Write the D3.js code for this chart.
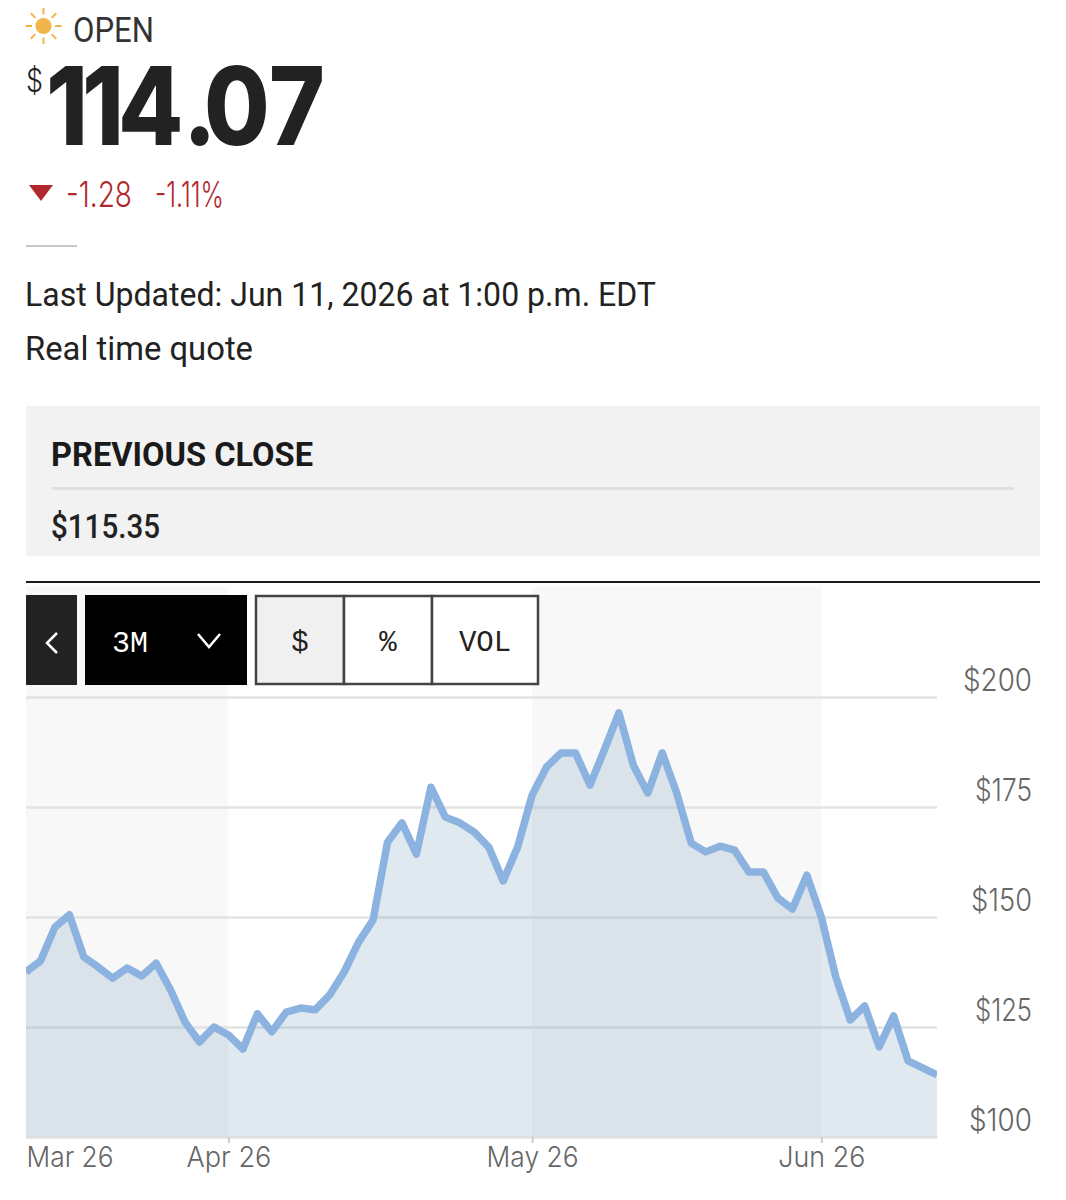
<!DOCTYPE html>
<html>
<head>
<meta charset="utf-8">
<title>Quote</title>
<script src="https://cdn.jsdelivr.net/npm/d3@7"></script>
<style>
  html, body { margin: 0; padding: 0; background: #fff; }
  svg { display: block; }
  .sans { font-family: Roboto, sans-serif; }
  .grot { font-family: Inter, sans-serif; }
  .mono { font-family: "Liberation Mono", monospace; }
</style>
</head>
<body>
<svg id="chart" width="1066" height="1200"></svg>
<script>
// Closing prices, one per trading day
var prices = [137.5, 140, 147.7, 150.5, 140.9, 138.6, 136.1, 138.4, 136.6, 139.5,
  133.4, 126.1, 121.6, 125, 123.2, 120, 128, 123.9, 128.4, 129.3,
  128.9, 132.3, 137.5, 144.3, 149.3, 167, 171.4, 164.3, 179.5, 172.7,
  171.4, 169.3, 165.9, 158.2, 165.9, 177.7, 184.1, 187.3, 187.3, 180,
  188, 196.4, 184.5, 178.2, 187.3, 178.2, 166.8, 164.8, 166.1, 165.2,
  160.2, 160.2, 154.3, 151.8, 159.5, 150, 136.4, 126.6, 129.8, 120.5,
  127.5, 117.3, 115.7, 114.1];
var priceTicks = [100, 125, 150, 175, 200];
var monthLabels = ['Mar 26', 'Apr 26', 'May 26', 'Jun 26'];
var monthStarts = [0, 14, 35, 55];
var rangeButtons = ['$', '%', 'VOL'];

var svg = d3.select('#chart');

var left = 26, right = 937, top_ = 697, bottom = 1137;

var x = d3.scaleLinear().domain([0, prices.length - 1]).range([left, right]);
var y = d3.scaleLinear().domain([100, 200]).range([bottom, top_]);

function label(text, cls, xpos, ypos, size, weight, fill, width, anchor) {
  var t = svg.append('text')
    .attr('class', cls)
    .attr('x', xpos).attr('y', ypos)
    .attr('font-size', size)
    .attr('font-weight', weight)
    .attr('fill', fill)
    .attr('text-anchor', anchor || 'start')
    .text(text);
  if (width) t.attr('textLength', width).attr('lengthAdjust', 'spacingAndGlyphs');
  return t;
}

// Header: sun icon
var sun = svg.append('g').attr('transform', 'translate(43.5,26)');
sun.append('circle').attr('r', 8).attr('fill', '#f1b54b');
d3.range(8).forEach(function(i) {
  sun.append('line')
    .attr('x1', 0).attr('y1', -11.5).attr('x2', 0).attr('y2', -18)
    .attr('stroke', '#f1b54b').attr('stroke-width', 2)
    .attr('transform', 'rotate(' + i * 45 + ')');
});
label('OPEN', 'sans', 73, 42, 35, 400, '#333', 81);

// Price, squeezed a little and spaced glyph by glyph
label('$', 'grot', 26, 92, 32, 300, '#222', 17);
var squeeze = 0.88;
var glyphX = [46, 82, 118, 183, 204, 269];
svg.append('text')
  .attr('class', 'grot')
  .attr('transform', 'scale(' + squeeze + ',1)')
  .attr('y', 145)
  .attr('font-size', 108)
  .attr('font-weight', 800)
  .attr('fill', '#222')
  .attr('x', glyphX.map(function(v) { return v / squeeze; }).join(' '))
  .text('114.07');

// Change
svg.append('path').attr('d', 'M29,185L53,185L41,201Z').attr('fill', '#b0282d');
label('-1.28', 'grot', 66, 207, 35, 350, '#b0282d', 66);
label('-1.11%', 'grot', 155, 207, 35, 350, '#b0282d', 69);

svg.append('rect').attr('x', 26).attr('y', 245).attr('width', 51).attr('height', 2).attr('fill', '#c8c8c8');

label('Last Updated: Jun 11, 2026 at 1:00 p.m. EDT', 'sans', 25, 306, 33, 400, '#222', 631);
label('Real time quote', 'sans', 25, 360, 33, 400, '#222', 228);

// Previous close box
svg.append('rect').attr('x', 26).attr('y', 406).attr('width', 1014).attr('height', 150).attr('fill', '#f2f2f2');
label('PREVIOUS CLOSE', 'sans', 51, 466, 34, 700, '#1a1a1a', 262);
svg.append('rect').attr('x', 52).attr('y', 487).attr('width', 962).attr('height', 3).attr('fill', '#e0e0e0');
label('$115.35', 'sans', 51, 538, 33, 500, '#222', 109);

svg.append('rect').attr('x', 26).attr('y', 581).attr('width', 1014).attr('height', 2).attr('fill', '#1a1a1a');

// Alternate month bands
svg.selectAll('.band')
  .data([[monthStarts[0], monthStarts[1]], [monthStarts[2], monthStarts[3]]])
  .enter().append('rect')
  .attr('class', 'band')
  .attr('x', function(d) { return x(d[0]); })
  .attr('y', 587)
  .attr('width', function(d) { return x(d[1]) - x(d[0]); })
  .attr('height', bottom - 587)
  .attr('fill', '#f8f8f8');

// Price axis with the grid lines
var yAxis = svg.append('g')
  .attr('transform', 'translate(' + left + ',0)')
  .call(d3.axisRight(y).tickValues(priceTicks).tickSize(right - left).tickFormat(function(d) { return '$' + d; }));
yAxis.select('.domain').remove();
yAxis.selectAll('line').attr('stroke', '#e3e3e3').attr('stroke-width', 2.5);
var priceLabelWidths = { 100: 63, 125: 57, 150: 61, 175: 57, 200: 69 };
yAxis.selectAll('text')
  .attr('class', 'grot')
  .attr('x', 1032 - left)
  .attr('dy', 0)
  .attr('y', -7)
  .attr('text-anchor', 'end')
  .attr('font-size', 31)
  .attr('font-weight', 300)
  .attr('fill', '#666')
  .attr('textLength', function(d) { return priceLabelWidths[d]; })
  .attr('lengthAdjust', 'spacingAndGlyphs');

// Area and line
svg.append('clipPath').attr('id', 'plot').append('rect')
  .attr('x', left).attr('y', 587).attr('width', right - left).attr('height', bottom - 587);

var area = d3.area()
  .x(function(d, i) { return x(i); })
  .y0(bottom)
  .y1(function(d) { return y(d); });
var line = d3.line()
  .x(function(d, i) { return x(i); })
  .y(function(d) { return y(d); });

svg.append('path').datum(prices)
  .attr('d', area)
  .attr('fill', 'rgb(100,140,180)')
  .attr('fill-opacity', 0.2);
svg.append('path').datum(prices)
  .attr('d', line)
  .attr('clip-path', 'url(#plot)')
  .attr('fill', 'none')
  .attr('stroke', '#8cb3e0')
  .attr('stroke-width', 7.5)
  .attr('stroke-linejoin', 'round');

// Month axis
var xAxis = svg.append('g')
  .attr('transform', 'translate(0,' + bottom + ')')
  .call(d3.axisBottom(x).tickValues(monthStarts).tickSizeInner(6).tickSizeOuter(0)
    .tickFormat(function(d) { return monthLabels[monthStarts.indexOf(d)]; }));
xAxis.select('.domain').attr('stroke', '#e3e3e3').attr('stroke-width', 2);
xAxis.selectAll('line').attr('stroke', '#ccc').attr('stroke-width', 2)
  .attr('opacity', function(d) { return d === 0 ? 0 : 1; });
var monthLabelWidths = [87, 85, 92, 87];
xAxis.selectAll('text')
  .attr('class', 'grot')
  .attr('dy', 0)
  .attr('y', 30)
  .attr('font-size', 29)
  .attr('font-weight', 300)
  .attr('fill', '#666')
  .attr('text-anchor', function(d) { return d === 0 ? 'start' : 'middle'; })
  .attr('textLength', function(d) { return monthLabelWidths[monthStarts.indexOf(d)]; })
  .attr('lengthAdjust', 'spacingAndGlyphs');

// Controls
svg.append('rect').attr('x', 26).attr('y', 595).attr('width', 51).attr('height', 90).attr('fill', '#222');
svg.append('path').attr('d', 'M57,633L47,643L57,653').attr('fill', 'none').attr('stroke', '#fff').attr('stroke-width', 2.5);
svg.append('rect').attr('x', 85).attr('y', 595).attr('width', 162).attr('height', 90).attr('fill', '#000');
label('3M', 'mono', 112, 652, 29, 400, '#fff', 36);
svg.append('path').attr('d', 'M198,634L209,647L220,634').attr('fill', 'none').attr('stroke', '#fff').attr('stroke-width', 2.5);

var buttonEdges = [256, 344, 432, 538];
var buttons = svg.selectAll('.btn')
  .data(rangeButtons)
  .enter().append('g').attr('class', 'btn');
buttons.append('rect')
  .attr('x', function(d, i) { return buttonEdges[i]; })
  .attr('y', 596)
  .attr('width', function(d, i) { return buttonEdges[i + 1] - buttonEdges[i]; })
  .attr('height', 88)
  .attr('fill', function(d, i) { return i === 0 ? '#f0f0f0' : '#fff'; })
  .attr('stroke', '#444')
  .attr('stroke-width', 2.5);
buttons.append('text')
  .attr('class', 'mono')
  .attr('x', function(d, i) { return (buttonEdges[i] + buttonEdges[i + 1]) / 2; })
  .attr('y', 651)
  .attr('text-anchor', 'middle')
  .attr('font-size', 29)
  .attr('fill', '#222')
  .text(function(d) { return d; });
</script>
</body>
</html>
